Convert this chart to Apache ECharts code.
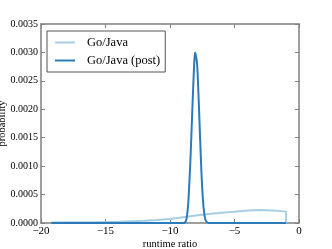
<!DOCTYPE html>
<html><head><meta charset="utf-8">
<script src="https://cdn.jsdelivr.net/npm/echarts@6/dist/echarts.min.js"></script>
<style>html,body{margin:0;padding:0;background:#fff}#c{width:332px;height:249px}</style>
</head><body><div id="c"></div>
<script>
const seriesNames = ['Go/Java', 'Go/Java (post)'];
const xTicks = [-20, -15, -10, -5, 0];
const yTicks = [0, 0.0005, 0.001, 0.0015, 0.002, 0.0025, 0.003, 0.0035];
const xPre = [-19.2, -18, -16, -14, -13, -12, -11, -10, -9, -8, -7, -6, -5, -4, -3, -2, -1, -1];
const yPre = [0.00001, 0.000012, 0.000015, 0.00002, 0.00003, 0.00004, 0.000052, 0.00007, 0.0001, 0.00013, 0.00016, 0.00018, 0.0002, 0.000218, 0.000228, 0.000222, 0.0002, 0];
const xPost = [-19.2, -9, -8.8, -8.7, -8.6, -8.5, -8.4, -8.3, -8.2, -8.1, -8.05, -8.0, -7.9, -7.8, -7.7, -7.6, -7.5, -7.4, -7.3, -7.2, -7.0, -1];
const yPost = [0, 0, 0.00002, 0.0001, 0.0003, 0.0007, 0.0012, 0.0018, 0.0024, 0.0029, 0.003, 0.00295, 0.0028, 0.0023, 0.0017, 0.0011, 0.0006, 0.00028, 0.0001, 0.00003, 0, 0];

const font = 'Liberation Serif';
const minus = v => String(v).replace('-', '\u2212');
const axisCol = '#7f7f7f';
const chart = echarts.init(document.getElementById('c'));
const mkX = (show, pos) => ({
  type: 'value', min: -20, max: 0, interval: 5, position: pos,
  axisLine: {show: true, onZero: false, lineStyle: {color: axisCol, width: 1.5}},
  axisTick: {show: true, inside: true, length: 4, lineStyle: {color: axisCol}},
  axisLabel: {show: show, color: '#000', fontFamily: font, fontSize: 11, margin: 3, formatter: v => minus(v)},
  splitLine: {show: false},
  name: show ? 'runtime ratio' : '', nameLocation: 'middle', nameGap: 16, nameMoveOverlap: false,
  nameTextStyle: {color: '#000', fontFamily: font, fontSize: 10.5}
});
const mkY = (show, pos) => ({
  type: 'value', min: 0, max: 0.0035, interval: 0.0005, position: pos,
  axisLine: {show: true, onZero: false, lineStyle: {color: axisCol, width: 1.5}},
  axisTick: {show: true, inside: true, length: 4, lineStyle: {color: axisCol}},
  axisLabel: {show: show, color: '#000', fontFamily: font, fontSize: 10, margin: 3, formatter: v => v.toFixed(4)},
  splitLine: {show: false},
  name: show ? 'probability' : '', nameLocation: 'middle', nameGap: 33, nameMoveOverlap: false,
  nameTextStyle: {color: '#000', fontFamily: font, fontSize: 10.5}
});
chart.setOption({
  animation: false,
  textStyle: {fontFamily: font},
  grid: {left: 41, top: 24, right: 33, bottom: 26, containLabel: false, outerBoundsMode: 'none'},
  xAxis: [mkX(true, 'bottom'), mkX(false, 'top')],
  yAxis: [mkY(true, 'left'), mkY(false, 'right')],
  legend: {
    orient: 'vertical', left: 47, top: 31, itemWidth: 20, itemHeight: 2, itemGap: 5,
    padding: [5, 5, 5, 8], borderColor: '#555', borderWidth: 1, icon: 'rect',
    textStyle: {fontFamily: font, fontSize: 12.5, color: '#000', padding: [0, 0, 0, 7]},
    data: seriesNames
  },
  series: [
    {name: seriesNames[0], type: 'line', showSymbol: false, symbol: 'none', color: '#a6cee3',
     lineStyle: {width: 2}, data: xPre.map((x, i) => [x, yPre[i]])},
    {name: seriesNames[1], type: 'line', showSymbol: false, symbol: 'none', color: '#2b7bba', smooth: 0.3,
     lineStyle: {width: 2}, data: xPost.map((x, i) => [x, yPost[i]])}
  ]
});
</script></body></html>
